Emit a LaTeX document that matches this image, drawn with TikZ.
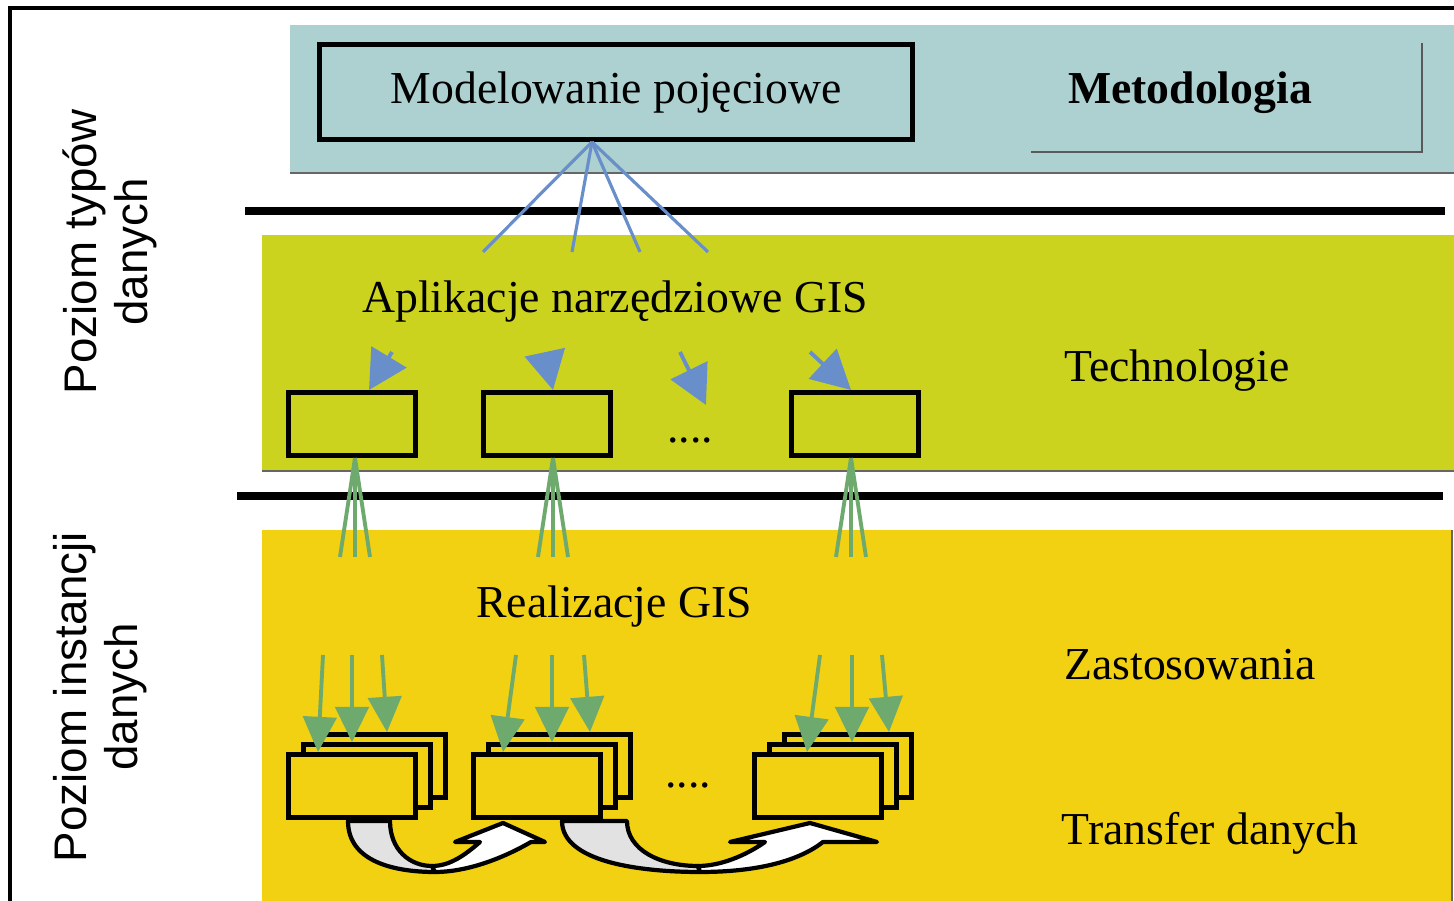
\documentclass[tikz,border=0pt]{standalone}
\usepackage{fontspec}
\setmainfont{Liberation Serif}
\setsansfont{Liberation Sans}
\usetikzlibrary{arrows.meta,calc}
\definecolor{bandblue}{RGB}{173,208,208}
\definecolor{bandgreen}{RGB}{204,211,30}
\definecolor{bandyellow}{RGB}{242,209,18}
\definecolor{fanblue}{RGB}{105,143,203}
\definecolor{fangreen}{RGB}{110,170,110}
\definecolor{tailgray}{RGB}{226,226,226}
\newcommand{\txt}{\fontsize{13}{15}\selectfont}
\tikzset{
  frame/.style={line width=1pt},
  sep/.style={line width=2pt},
  edge/.style={draw=black!60, line width=0.4pt},
  box/.style={draw, line width=1.4pt, minimum width=1.27cm, minimum height=0.63cm, inner sep=0pt},
  lbl/.style={font=\txt, inner sep=0pt},
  side/.style={font=\sffamily\fontsize{13}{14.5}\selectfont, align=center, inner sep=0pt, rotate=90},
  fanB/.style={fanblue, line width=0.9pt},
  arrB/.style={-{Triangle[length=11pt,width=11.5pt]}, fanblue, line width=1.1pt},
  fanG/.style={fangreen, line width=1.1pt},
  arrG/.style={-{Triangle[length=10pt,width=9.5pt]}, fangreen, line width=1.1pt},
  blockA/.style={fill=tailgray, draw, line width=1.2pt, line join=round},
  blockB/.style={fill=white, draw, line width=1.2pt, line join=round}
}
% three stacked sheets: back, middle, front
\newcommand{\Stack}[3]{%
  \node[box, fill=bandyellow] (k#1) at (#2+30,#3-20) {};
  \node[box, fill=bandyellow] (m#1) at (#2+15,#3-10) {};
  \node[box, fill=bandyellow] (f#1) at (#2,#3) {};
}
\begin{document}
\begin{tikzpicture}[x=0.01cm, y=-0.01cm]
  \useasboundingbox (0,0) rectangle (1454,901);
  % bands
  \fill[bandblue] (290,25) rectangle (1454,173);
  \draw[edge] (290,173) -- (1454,173);
  \fill[bandgreen] (262,235) rectangle (1454,471);
  \draw[edge] (262,471) -- (1454,471);
  \fill[bandyellow] (262,530) rectangle (1452,901);
  \draw[edge] (1452,530) -- (1452,901);
  \draw[frame] (10,901) -- (10,8) -- (1454,8);
  \draw[sep] (245,211) -- (1445,211);
  \draw[sep] (237,496) -- (1443,496);
  % side labels
  \node[side] (typy) at (110,252) {Poziom typów\\danych};
  \node[side] (inst) at (100,697) {Poziom instancji\\danych};
  % methodology
  \node[box, minimum width=5.92cm, minimum height=0.95cm, font=\txt, text depth=0.6ex] (mp) at (616,92) {Modelowanie pojęciowe};
  \node[lbl] (meto) at (1190,93) {\bfseries Metodologia};
  \draw[edge, draw=black!65] (1031,152) -- (1422,152) -- (1422,43);
  \foreach \x in {483,572,640,708}
    \draw[fanB] ([xshift=-0.24cm]mp.south) -- (\x,252);
  % technologies
  \node[lbl] (apl) at (615,302) {Aplikacje narzędziowe GIS};
  \node[lbl] (tech) at (1177,371) {Technologie};
  \node[box] (t1) at (352,424) {};
  \node[box] (t2) at (547,424) {};
  \node[box] (t3) at (855,424) {};
  \node[lbl] (dt) at (690,440) {....};
  \coordinate (free) at (706,405);
  \draw[arrB] (392,352) -- ($(t1.north)+(17,0)$);
  \draw[arrB] (545,353) -- ($(t2.north)+(6,0)$);
  \draw[arrB] (680,352) -- (free);
  \draw[arrB] (810,352) -- ($(t3.north)+(-4,0)$);
  \foreach \n/\c in {1/3,2/6,3/-4}
    \foreach \d in {-15,0,15}
      \draw[fanG] ($(t\n.south)+(\c,0)$) -- ($(t\n.south)+(\c+\d,99)$);
  % applications
  \node[lbl] (real) at (614,607) {Realizacje GIS};
  \node[lbl] (zast) at (1190,665) {Zastosowania};
  \node[lbl] (trans) at (1210,833) {Transfer danych};
  \Stack{1}{352}{786}
  \Stack{2}{537}{786}
  \Stack{3}{818}{786}
  \node[lbl] (ds) at (688,785) {....};
  \foreach \n/\sa/\sb/\sc/\ta/\tb/\tc in
      {1/-29/0/30/-34/-15/5, 2/-21/15/47/-34/0/23, 3/2/34/64/-11/19/41}{
    \draw[arrG] ($(f\n.north)+(\sa,-97)$) -- ($(f\n.north)+(\ta,0)$);
    \draw[arrG] ($(f\n.north)+(\sb,-97)$) -- ($(m\n.north)+(\tb,0)$);
    \draw[arrG] ($(f\n.north)+(\sc,-97)$) -- ($(k\n.north)+(\tc,0)$);
  }
  % transfer arrows
  \filldraw[blockA] (348,821) .. controls (348,862) and (395,872) .. (435,872)
    -- (432,866) .. controls (410,866) and (390,850) .. (390,821) -- cycle;
  \filldraw[blockB] (435,872) .. controls (465,872) and (500,860) .. (531,842)
    -- (545,842) -- (503,823) -- (455,842) -- (480,842)
    .. controls (465,855) and (450,866) .. (432,866) -- cycle;
  \filldraw[blockA] (562,821) .. controls (562,862) and (640,872) .. (700,872)
    -- (698,866) .. controls (660,866) and (627,850) .. (627,821) -- cycle;
  \filldraw[blockB] (700,872) .. controls (760,872) and (800,860) .. (823,842)
    -- (877,842) -- (810,823) -- (730,842) -- (765,842)
    .. controls (745,856) and (720,866) .. (698,866) -- cycle;
\end{tikzpicture}
\end{document}
